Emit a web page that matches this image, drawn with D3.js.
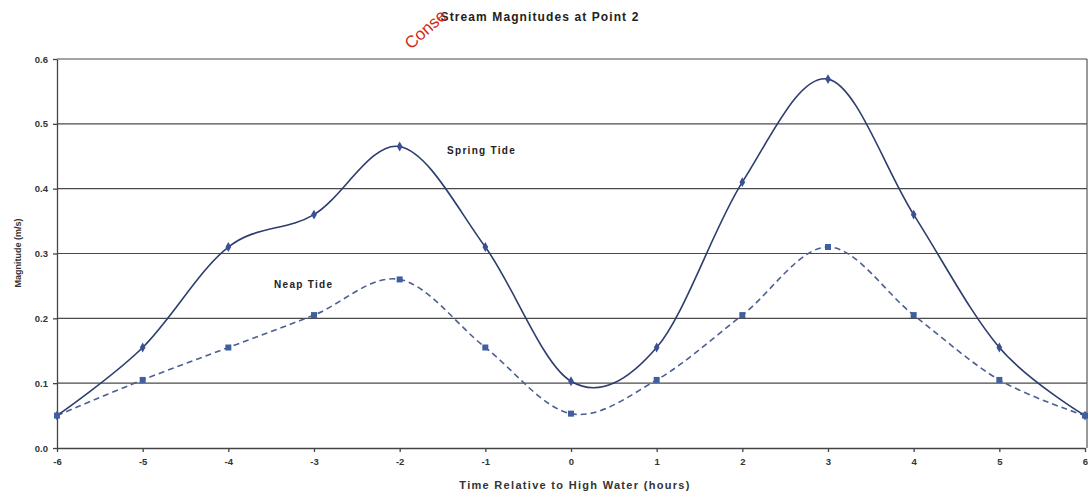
<!DOCTYPE html>
<html><head><meta charset="utf-8">
<script src="https://cdn.jsdelivr.net/npm/d3@7"></script>
<style>body{margin:0;background:#fff}svg{display:block}text{font-family:"Liberation Sans",Arial,sans-serif}</style>
</head><body><svg id="c" width="1090" height="497"></svg>
<script>
const hours = [-6,-5,-4,-3,-2,-1,0,1,2,3,4,5,6];
const springTide = [0.05,0.155,0.31,0.36,0.465,0.31,0.103,0.155,0.41,0.569,0.36,0.155,0.05];
const neapTide = [0.05,0.105,0.155,0.205,0.26,0.155,0.053,0.105,0.205,0.31,0.205,0.105,0.05];
const yTicks = [0,0.1,0.2,0.3,0.4,0.5,0.6];
const xTicks = [-6,-5,-4,-3,-2,-1,0,1,2,3,4,5,6];

const svg = d3.select("#c");
const x = d3.scaleLinear().domain([-6,6]).range([57,1085]);
const y = d3.scaleLinear().domain([0,0.6]).range([448,59]);

svg.append("g").selectAll("line").data(yTicks.slice(1)).join("line")
  .attr("x1",57).attr("x2",1087).attr("y1",d=>y(d)).attr("y2",d=>y(d))
  .attr("stroke","#4a4a4a").attr("stroke-width",1.2);
svg.append("line").attr("x1",1087).attr("x2",1087).attr("y1",y(0.6)).attr("y2",y(0)).attr("stroke","#555").attr("stroke-width",1.2);

const xAxis = svg.append("g").attr("transform","translate(0,448)")
  .call(d3.axisBottom(x).tickValues(xTicks).tickFormat(d=>String(d)).tickSize(4).tickSizeOuter(0));
const yAxis = svg.append("g").attr("transform","translate(57,0)")
  .call(d3.axisLeft(y).tickValues(yTicks).tickFormat(d3.format(".1f")).tickSize(4).tickSizeOuter(0));
[xAxis,yAxis].forEach(a=>{
  a.selectAll("path,line").attr("stroke","#444").attr("stroke-width",1.3);
  a.selectAll("text").attr("fill","#333").attr("font-size",9.5).attr("font-weight","bold");
});
xAxis.selectAll("text").attr("dy","1.1em");
yAxis.selectAll("text").attr("dx","-2");

const line = d3.line().x((d,i)=>x(hours[i])).y(d=>y(d)).curve(d3.curveCatmullRom.alpha(0));
svg.append("path").attr("d",line(neapTide)).attr("fill","none").attr("stroke","#4b5f93")
  .attr("stroke-width",1.6).attr("stroke-dasharray","6,4");
svg.append("path").attr("d",line(springTide)).attr("fill","none").attr("stroke","#2d3d6e")
  .attr("stroke-width",1.6);

svg.append("g").selectAll("path").data(springTide).join("path")
  .attr("d",d3.symbol(d3.symbolDiamond,28))
  .attr("transform",(d,i)=>`translate(${x(hours[i])},${y(d)})`).attr("fill","#3a4f96");
svg.append("g").selectAll("rect").data(neapTide).join("rect")
  .attr("x",(d,i)=>x(hours[i])-3).attr("y",d=>y(d)-3).attr("width",6).attr("height",6)
  .attr("fill","#3f5fa0");

svg.append("text").attr("x",540).attr("y",21).attr("text-anchor","middle")
  .attr("font-size",12).attr("font-weight","bold").attr("fill","#222").attr("letter-spacing","1.1").text("Stream Magnitudes at Point 2");
svg.append("text").attr("transform","translate(411,50) rotate(-42)").attr("font-size",17)
  .attr("fill","#d42a1a").attr("font-family","Liberation Serif").text("Conse");
svg.append("text").attr("transform","translate(21,253) rotate(-90)").attr("text-anchor","middle")
  .attr("font-size",9).attr("font-weight","bold").attr("fill","#333").text("Magnitude (m/s)");
svg.append("text").attr("x",575).attr("y",489).attr("text-anchor","middle")
  .attr("font-size",11).attr("font-weight","bold").attr("fill","#333").attr("letter-spacing","1.3").text("Time Relative to High Water (hours)");
svg.append("text").attr("x",447).attr("y",154).attr("font-size",10).attr("font-weight","bold").attr("fill","#222").attr("letter-spacing","1.3").text("Spring Tide");
svg.append("text").attr("x",274).attr("y",288).attr("font-size",10).attr("font-weight","bold").attr("fill","#222").attr("letter-spacing","1.3").text("Neap Tide");
</script></body></html>
